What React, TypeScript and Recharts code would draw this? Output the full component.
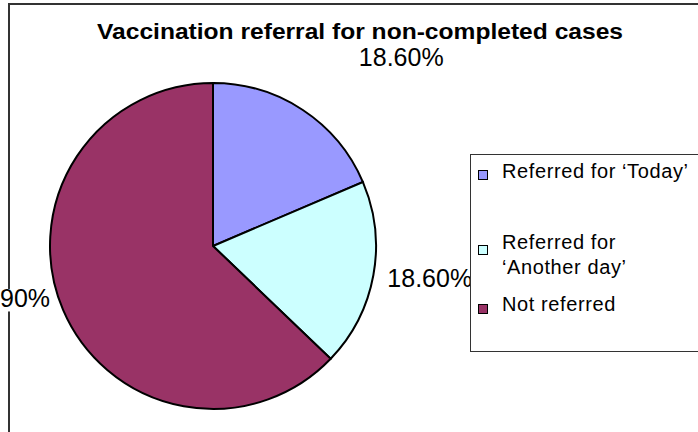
import React from "react";
import { PieChart, Pie, Cell, Legend } from "recharts";

const categories = [
  "Referred for \u2018Today\u2019",
  "Referred for \u2018Another day\u2019",
  "Not referred",
];
const shares = [18.6, 18.6, 62.9];
const shareLabels = ["18.60%", "18.60%", "62.90%"];
const colors = ["#9999FF", "#CCFFFF", "#993366"];

const title = "Vaccination referral for non-completed cases";

// label nudges, relative to the point on the rim at the slice's mid angle
const labelNudge = [
  { dx: 56, dy: -44, anchor: "start" },
  { dx: 14, dy: 12, anchor: "start" },
  { dx: -13, dy: -3, anchor: "end" },
];
// legend rows: top offset inside the box, marker top offset inside the row
const legendRows = [
  { top: 4, marker: 11 },
  { top: 75, marker: 15 },
  { top: 137, marker: 12 },
];

const data = categories.map((name, i) => ({
  name,
  value: shares[i],
  label: shareLabels[i],
}));

const RAD = Math.PI / 180;
const LABEL_SIZE = 25;

function renderLabel(props: any) {
  const { cx, cy, midAngle, outerRadius, index } = props;
  const px = cx + outerRadius * Math.cos(-midAngle * RAD);
  const py = cy + outerRadius * Math.sin(-midAngle * RAD);
  const n = labelNudge[index];
  const text = data[index].label;
  const w = text.length * LABEL_SIZE * 0.565;
  const x = px + n.dx;
  const y = py + n.dy;
  return (
    <g>
      <rect
        x={n.anchor === "end" ? x - w - 2 : x - 2}
        y={y - LABEL_SIZE * 0.72}
        width={w + 4}
        height={LABEL_SIZE * 0.9}
        fill="#fff"
      />
      <text
        x={x}
        y={y}
        textAnchor={n.anchor}
        fill="#000"
        fontSize={LABEL_SIZE}
        fontFamily="'Liberation Sans', Arial, sans-serif"
      >
        {text}
      </text>
    </g>
  );
}

function LegendBox(props: any) {
  const items = [...(props.payload || [])].sort(
    (a: any, b: any) => categories.indexOf(a.value) - categories.indexOf(b.value)
  );
  return (
    <div
      style={{
        position: "relative",
        width: 240,
        height: 198,
        background: "#fff",
        border: "1px solid #333",
        boxSizing: "border-box",
        fontFamily: "'Liberation Sans', Arial, sans-serif",
        fontSize: 20,
        letterSpacing: 0.6,
        lineHeight: "25px",
        color: "#000",
      }}
    >
      {items.map((entry: any, i: number) => (
        <div
          key={entry.value}
          style={{ position: "absolute", left: 7, top: legendRows[i].top, display: "flex" }}
        >
          <span
            style={{
              display: "inline-block",
              width: 8,
              height: 8,
              marginTop: legendRows[i].marker,
              marginRight: 14,
              background: entry.color,
              border: "1px solid #000",
              flex: "none",
            }}
          />
          <span style={{ width: 196 }}>{entry.value}</span>
        </div>
      ))}
    </div>
  );
}

export default function App() {
  return (
    <div
      style={{
        position: "absolute",
        left: 0,
        top: 0,
        width: 698,
        height: 432,
        overflow: "hidden",
        background: "#fff",
      }}
    >
      <div
        style={{
          position: "absolute",
          left: 8,
          top: 3,
          width: 800,
          height: 600,
          borderLeft: "2px solid #333",
          borderTop: "2px solid #333",
        }}
      />
      <svg width={698} height={60} style={{ position: "absolute", left: 0, top: 0 }}>
        <text
          x={360}
          y={39}
          textAnchor="middle"
          fontSize={22}
          fontWeight="bold"
          fontFamily="'Liberation Sans', Arial, sans-serif"
          textLength={526}
          lengthAdjust="spacingAndGlyphs"
        >
          {title}
        </text>
      </svg>
      <div style={{ position: "absolute", left: 0, top: 0 }}>
        <PieChart width={698} height={432} margin={{ top: 0, right: 0, bottom: 0, left: 0 }}>
          <Pie
            data={data}
            dataKey="value"
            nameKey="name"
            cx={213}
            cy={246}
            outerRadius={163}
            startAngle={90}
            endAngle={-270}
            stroke="#000"
            strokeWidth={2}
            label={renderLabel}
            labelLine={false}
            isAnimationActive={false}
          >
            {data.map((d, i) => (
              <Cell key={d.name} fill={colors[i]} />
            ))}
          </Pie>
          <Legend
            layout="vertical"
            align="right"
            verticalAlign="middle"
            content={<LegendBox />}
            wrapperStyle={{ left: 470, top: 154, right: "auto", bottom: "auto", width: 240, height: 198 }}
          />
        </PieChart>
      </div>
    </div>
  );
}
